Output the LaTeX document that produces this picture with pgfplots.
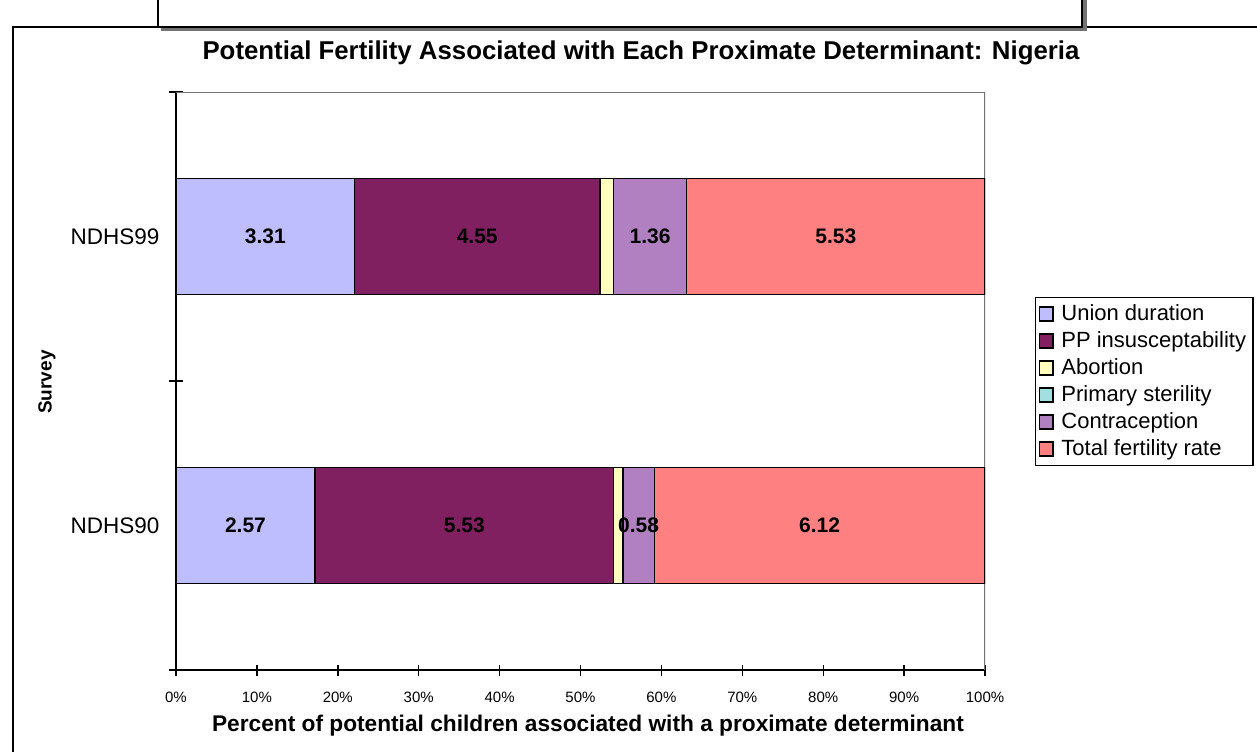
\documentclass[border=0pt]{standalone}
\usepackage{pgfplots}
\pgfplotsset{compat=1.18}
\usepackage{pgfplotstable}
\usepackage{fontspec}
\setmainfont{Liberation Sans}
\definecolor{cUnion}{RGB}{190,190,255}
\definecolor{cPP}{RGB}{128,32,96}
\definecolor{cAbort}{RGB}{255,255,192}
\definecolor{cSter}{RGB}{160,224,224}
\definecolor{cContra}{RGB}{176,128,192}
\definecolor{cTFR}{RGB}{255,128,128}
% percentages of total potential children (y: 0 = NDHS90, 1 = NDHS99)
\pgfplotstableread{
y p
0 17.168
1 22.067
}\tUnion
\pgfplotstableread{
y p
0 36.941
1 30.333
}\tPP
\pgfplotstableread{
y p
0 1.136
1 1.667
}\tAbort
\pgfplotstableread{
y p
0 0
1 0
}\tSter
\pgfplotstableread{
y p
0 3.874
1 9.067
}\tContra
\pgfplotstableread{
y p
0 40.882
1 36.867
}\tTFR
% data labels: number of children, placed at segment centres
\pgfplotstableread{
c y v
8.584 0 2.57
11.033 1 3.31
35.639 0 5.53
37.233 1 4.55
57.182 0 0.58
58.600 1 1.36
79.560 0 6.12
81.567 1 5.53
}\tLabels
\pgfplotsset{
  seg/.style={fill=#1, draw=black, line width=0.7pt},
  geom/.style={at={(88pt,-335pt)}, anchor=south west,
    scale only axis, width=404.5pt, height=289pt,
    xmin=0, xmax=100, ymin=-0.5, ymax=1.5},
}
\begin{document}
\begin{tikzpicture}
\useasboundingbox (0,0) rectangle (628.5pt,-375.5pt);
\begin{scope}[x=0.5pt,y=-0.5pt]
\draw[line width=1pt] (13,760) -- (13,27) -- (1260,27);
\draw[line width=1.6pt, black!55] (161,29.5) -- (1085,29.5) -- (1085,-5);
\fill[white] (158,-5) rectangle (1082,27);
\draw[line width=1pt] (158,-5) -- (158,27) -- (1082,27) -- (1082,-5);
\end{scope}
\begin{axis}[
  geom,
  xbar stacked, bar width=58pt,
  axis x line*=bottom, axis y line*=left,
  axis line style={-, black, line width=1.1pt},
  /pgf/number format/assume math mode=true,
  xtick={0,10,...,100},
  xticklabel={\pgfmathprintnumber{\tick}\%},
  x tick label style={font=\fontsize{7.5}{9}\selectfont, yshift=-4.5pt},
  ytick={0,1}, yticklabels={NDHS90,NDHS99},
  y tick label style={font=\fontsize{11.25}{13}\selectfont, xshift=-2pt},
  minor ytick={-0.5,0.5,1.5},
  major y tick style={draw=none},
  tick align=center,
  major tick length=5.5pt, minor tick length=7pt,
  tick style={black, line width=0.7pt},
  legend cell align=left,
  legend image code/.code={\draw[#1, draw=black, line width=0.9pt] (0pt,-3.4pt) rectangle (6.8pt,3.4pt); \path (8.6pt,0pt);},
  legend style={at={(1.0618,0.6453)}, anchor=north west, draw=black, line width=0.6pt,
    font=\fontsize{11}{13}\selectfont, inner sep=1.5pt, row sep=0pt},
]
\addplot[seg=cUnion] table[x=p, y=y] {\tUnion};
\addlegendentry{Union duration}
\addplot[seg=cPP] table[x=p, y=y] {\tPP};
\addlegendentry{PP insusceptability}
\addplot[seg=cAbort] table[x=p, y=y] {\tAbort};
\addlegendentry{Abortion}
\addplot[seg=cSter] table[x=p, y=y] {\tSter};
\addlegendentry{Primary sterility}
\addplot[seg=cContra] table[x=p, y=y] {\tContra};
\addlegendentry{Contraception}
\addplot[seg=cTFR] table[x=p, y=y] {\tTFR};
\addlegendentry{Total fertility rate}
\draw[black!55, line width=1.1pt] (rel axis cs:0,1) -- (rel axis cs:1,1) -- (rel axis cs:1,0);
\end{axis}
\begin{axis}[geom, hide axis]
\addplot[only marks, mark=text, text mark={},
  nodes near coords, point meta=explicit symbolic,
  nodes near coords style={anchor=center, font=\bfseries\fontsize{10.5}{12}\selectfont, text=black}]
  table[x=c, y=y, meta=v] {\tLabels};
\end{axis}
\node[font=\bfseries\fontsize{12.9}{15}\selectfont] at (320.5pt,-26.5pt) {Potential Fertility Associated with Each Proximate Determinant: Nigeria};
\node[font=\bfseries\fontsize{11.35}{13}\selectfont] at (294pt,-363pt) {Percent of potential children associated with a proximate determinant};
\node[font=\bfseries\fontsize{9.5}{11}\selectfont, rotate=90] at (23.5pt,-191pt) {Survey};
\end{tikzpicture}
\end{document}
